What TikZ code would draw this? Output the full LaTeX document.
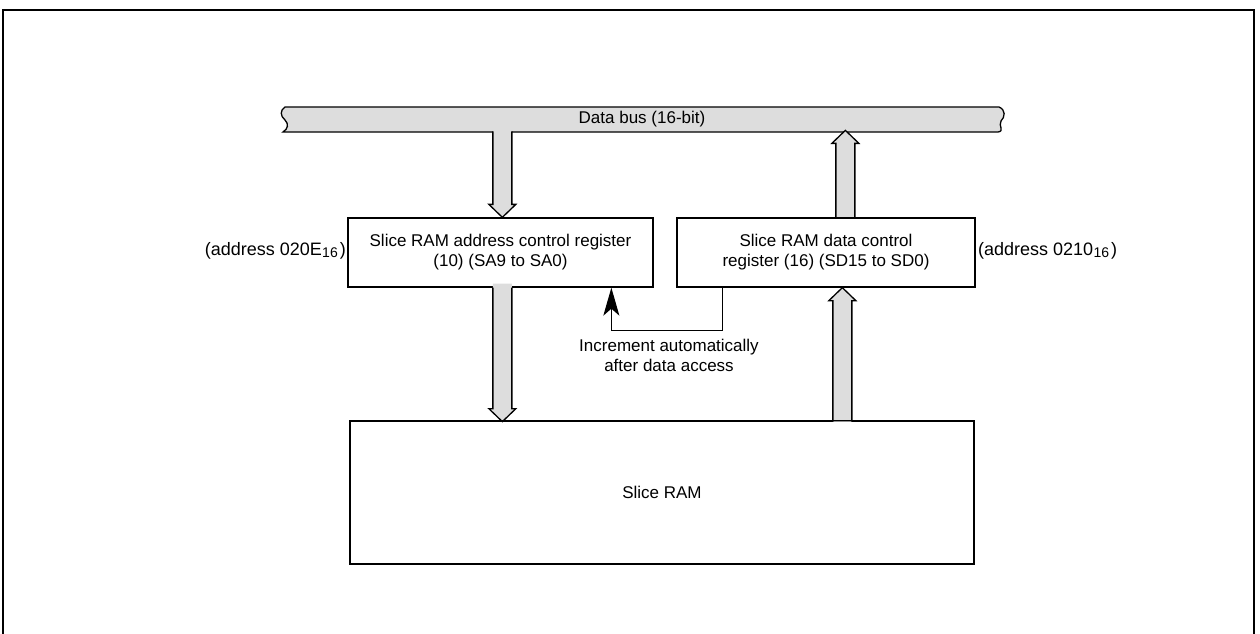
\documentclass[tikz,border=0pt]{standalone}
\usepackage{fontspec}
\setmainfont{Liberation Sans}
\usetikzlibrary{arrows.meta,calc}
\definecolor{busgray}{HTML}{DDDDDD}
\newcommand{\sixteen}{\kern0.3pt\raisebox{-0.15ex}{\fontsize{14}{14}\selectfont 16}\kern2pt}
\tikzset{
  lw/.style={line width=1.3pt},
  regbox/.style={draw,lw,rectangle,inner sep=0pt,align=center,font=\fontsize{17}{20}\selectfont},
  lbl/.style={inner sep=0pt,align=center,font=\fontsize{17}{20}\selectfont},
  addrlbl/.style={inner sep=0pt,font=\fontsize{18}{20}\selectfont},
  pics/fatdn/.style={code={
    \fill[busgray] (-9.5,-4) -- (-9.5,{#1-13}) -- (-13.5,{#1-13}) -- (0,#1) -- (13.5,{#1-13}) -- (9.5,{#1-13}) -- (9.5,-4) -- cycle;
    \draw[lw,line join=miter] (-9.5,0) -- (-9.5,{#1-13}) -- (-13.5,{#1-13}) -- (0,#1) -- (13.5,{#1-13}) -- (9.5,{#1-13}) -- (9.5,0);
  }},
  pics/fatup/.style={code={
    \fill[busgray] (0,0) -- (13.5,13) -- (9.5,13) -- (9.5,#1) -- (-9.5,#1) -- (-9.5,13) -- (-13.5,13) -- cycle;
    \draw[lw,line join=miter] (-9.5,#1) -- (-9.5,13) -- (-13.5,13) -- (0,0) -- (13.5,13) -- (9.5,13) -- (9.5,#1);
  }}
}
\begin{document}
\begin{tikzpicture}[x=1pt,y=-1pt]
\useasboundingbox (0,0) rectangle (1260,634);
% outer frame
\draw[lw] (3,640) -- (3,10) -- (1254,10) -- (1254,640);
% data bus
\path[fill=busgray,draw,lw] (285,107) -- (999,107)
  .. controls (1006,110) and (1005,117) .. (1001,121)
  .. controls (998,126) and (1005,131) .. (998,132)
  -- (283,132)
  .. controls (288,129) and (289,124) .. (285,120)
  .. controls (280,116) and (280,110) .. (285,107) -- cycle;
\node[lbl] (bus) at (642,119) {Data bus (16-bit)};
% registers and RAM
\node[regbox,minimum width=305pt,minimum height=69pt] (addr) at (500.5,252.5)
  {Slice RAM address control register\\(10) (SA9 to SA0)};
\node[regbox,minimum width=298pt,minimum height=69pt] (data) at (826,252.5)
  {Slice RAM data control\\register (16) (SD15 to SD0)};
\node[regbox,minimum width=624pt,minimum height=143pt] (ram) at (662,492.5) {Slice RAM};
\node[addrlbl,anchor=east] (la) at (346,251) {(address 020E\sixteen)};
\node[addrlbl,anchor=west] (ld) at (978,251) {(address 0210\sixteen)};
% fat arrows
\pic at ($(addr.north west)+(155,-86)$) {fatdn=86};
\pic at ($(data.north west)+(169,-87)$) {fatup=87};
\pic at ($(addr.south west)+(155,0)$) {fatdn=134};
\pic at ($(data.south west)+(166,0)$) {fatup=134};
% redraw box outlines where arrows touch
\draw[lw] (data.north west) -- (data.north east);
\draw[lw] (ram.north west) -- (ram.north east);
% increment feedback
\coordinate (fbstart) at ($(data.south west)+(46,0)$);
\coordinate (fbend) at ($(addr.south west)+(264,0)$);
\draw[lw,-{Stealth[length=28pt,width=16pt,inset=7pt]}] (fbstart) -- ++(0,43) -| (fbend);
\node[lbl] (inc) at (669,355) {Increment automatically\\after data access};
\end{tikzpicture}
\end{document}
